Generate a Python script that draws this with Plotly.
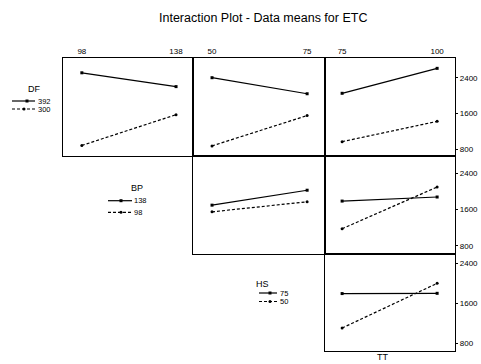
import plotly.graph_objects as go

W, H = 481, 364

# ---- data (means of ETC) ----
bp_levels = [98, 138]
hs_levels = [50, 75]
tt_levels = [75, 100]
df_labels = ["392", "300"]
bp_labels = ["138", "98"]
hs_labels = ["75", "50"]

df392_by_bp = [2510, 2200]
df300_by_bp = [880, 1570]
df392_by_hs = [2400, 2040]
df300_by_hs = [870, 1550]
df392_by_tt = [2050, 2610]
df300_by_tt = [965, 1420]
bp138_by_hs = [1700, 2030]
bp98_by_hs = [1552, 1775]
bp138_by_tt = [1790, 1880]
bp98_by_tt = [1180, 2100]
hs75_by_tt = [1795, 1800]
hs50_by_tt = [1105, 2000]

y_ticks = [800, 1600, 2400]

# ---- layout geometry (pixels) ----
cols = [(63, 193), (193, 325), (325, 455)]
rows = [(58, 156), (156, 254), (254, 351)]
x_ranges = {"BP": [90, 145.2], "HS": [45, 79.7], "TT": [70.5, 104.7]}
y_ranges = [[643, 2842], [621, 2786], [644, 2588]]

SOLID = dict(dash="solid", symbol="square")
DASH = dict(dash="3px,2px", symbol="circle")

panels = [
    (0, 0, "BP", bp_levels, [(df392_by_bp, SOLID), (df300_by_bp, DASH)]),
    (1, 0, "HS", hs_levels, [(df392_by_hs, SOLID), (df300_by_hs, DASH)]),
    (2, 0, "TT", tt_levels, [(df392_by_tt, SOLID), (df300_by_tt, DASH)]),
    (1, 1, "HS", hs_levels, [(bp138_by_hs, SOLID), (bp98_by_hs, DASH)]),
    (2, 1, "TT", tt_levels, [(bp138_by_tt, SOLID), (bp98_by_tt, DASH)]),
    (2, 2, "TT", tt_levels, [(hs75_by_tt, SOLID), (hs50_by_tt, DASH)]),
]

FONT = "Liberation Sans, Arial, sans-serif"
fig = go.Figure()
layout = {}

for i, (c, r, xname, xlev, series) in enumerate(panels, start=1):
    x0, x1 = cols[c]
    y0, y1 = rows[r]
    xa = "xaxis" if i == 1 else f"xaxis{i}"
    ya = "yaxis" if i == 1 else f"yaxis{i}"
    xr = "x" if i == 1 else f"x{i}"
    yr = "y" if i == 1 else f"y{i}"
    layout[xa] = dict(
        domain=[x0 / W, x1 / W], range=x_ranges[xname], anchor=yr,
        showline=True, mirror=True, linecolor="black", linewidth=1.3,
        showgrid=False, zeroline=False, automargin=False,
        tickvals=xlev if r == 0 else [], ticktext=[str(v) for v in xlev],
        side="top", ticks="", tickfont=dict(size=8, family=FONT, color="black"),
    )
    layout[ya] = dict(
        domain=[1 - y1 / H, 1 - y0 / H], range=y_ranges[r], anchor=xr,
        showline=True, mirror=True, linecolor="black", linewidth=1.3,
        showgrid=False, zeroline=False, automargin=False,
        tickvals=y_ticks if c == 2 else [], side="right",
        ticks="outside" if c == 2 else "", ticklen=2, tickcolor="black",
        tickfont=dict(size=8, family=FONT, color="black"),
    )
    for yv, st in series:
        fig.add_trace(go.Scatter(
            x=xlev, y=yv, xaxis=xr, yaxis=yr, mode="lines+markers",
            line=dict(color="black", width=1.2, dash=st["dash"]),
            marker=dict(symbol=st["symbol"], size=3, color="black"),
            showlegend=False, hoverinfo="skip"))

# overlay pixel axis for legend keys
layout["xaxis7"] = dict(domain=[0, 1], range=[0, W], visible=False, anchor="y7",
                        fixedrange=True, automargin=False)
layout["yaxis7"] = dict(domain=[0, 1], range=[H, 0], visible=False, anchor="x7",
                        fixedrange=True, automargin=False)

annotations = []

def legend(title, tx, ty, labels, lx0, lx1, mk, lab_x, ys):
    annotations.append(dict(x=tx / W, y=1 - ty / H, xref="paper", yref="paper",
                            text=title, showarrow=False, yanchor="middle",
                            font=dict(size=9, family=FONT, color="black")))
    for lab, yy, st, m in zip(labels, ys, [SOLID, DASH], mk):
        fig.add_trace(go.Scatter(x=[lx0, lx1], y=[yy, yy], xaxis="x7", yaxis="y7",
                                 mode="lines", line=dict(color="black", width=1.2, dash=st["dash"]),
                                 showlegend=False, hoverinfo="skip"))
        fig.add_trace(go.Scatter(x=[m], y=[yy], xaxis="x7", yaxis="y7", mode="markers",
                                 marker=dict(symbol=st["symbol"], size=3, color="black"),
                                 showlegend=False, hoverinfo="skip"))
        annotations.append(dict(x=lab_x / W, y=1 - yy / H, xref="paper", yref="paper",
                                text=lab, showarrow=False, xanchor="left", yanchor="middle",
                                font=dict(size=7.5, family=FONT, color="black")))

legend("DF", 26, 89, df_labels, 12, 35, [27, 24], 36, [101, 109])
legend("BP", 129, 188, bp_labels, 108, 132, [121, 121], 132, [200.7, 212.3])
legend("HS", 262, 284, hs_labels, 259, 277, [270, 270], 278, [293, 301.5])

annotations.append(dict(x=390 / W, y=1 - 357 / H, xref="paper", yref="paper", text="TT",
                        showarrow=False, yanchor="middle",
                        font=dict(size=9, family=FONT, color="black")))
annotations.append(dict(x=263 / W, y=1 - 18 / H, xref="paper", yref="paper",
                        text="Interaction Plot - Data means for ETC", showarrow=False,
                        yanchor="middle",
                        font=dict(size=12.5, family=FONT, color="black")))

fig.update_layout(width=W, height=H, margin=dict(l=0, r=0, t=0, b=0, pad=0, autoexpand=False),
                  paper_bgcolor="white", plot_bgcolor="rgba(0,0,0,0)",
                  annotations=annotations, showlegend=False, **layout)

fig.write_html("out.html", config={"displayModeBar": False},
               post_script="document.body.style.margin='0px';document.body.style.overflow='hidden';")
